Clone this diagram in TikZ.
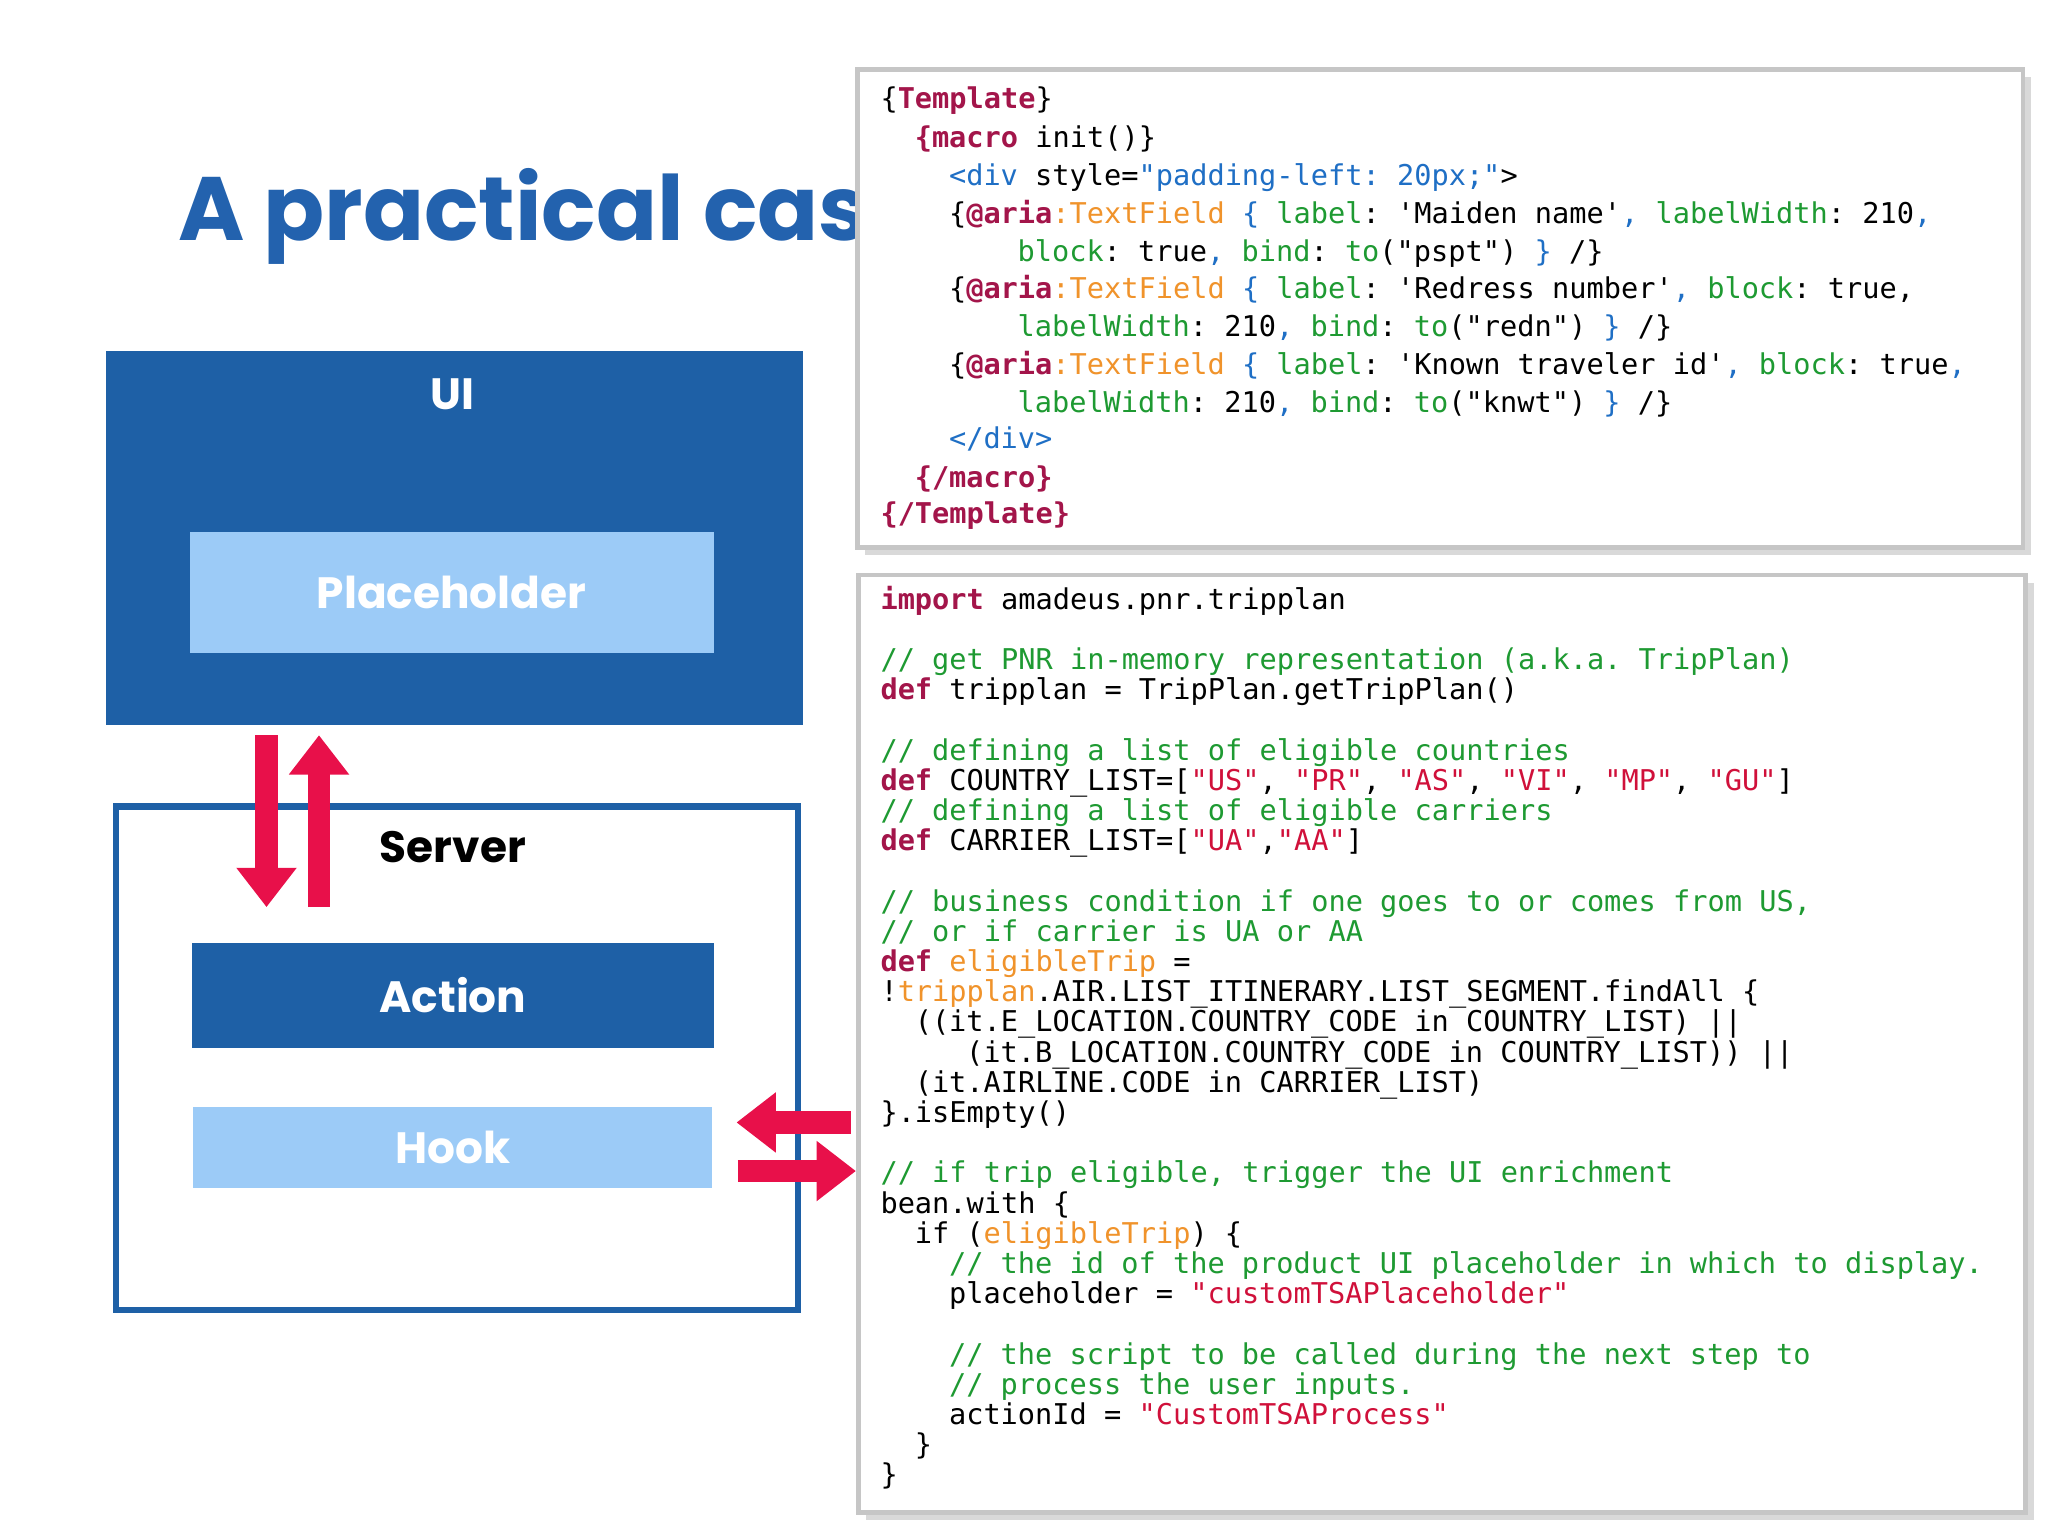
\documentclass[tikz,border=0pt]{standalone}
\usepackage{fontspec}
\setmainfont{Poppins}
\setmonofont{DejaVu Sans Mono}
\usetikzlibrary{arrows.meta}
\definecolor{dblue}{HTML}{1E60A6}
\definecolor{lblue}{HTML}{9CCBF7}
\definecolor{tblue}{HTML}{2362AE}
\definecolor{ared}{HTML}{E8104A}
\definecolor{kwc}{HTML}{A3154A}
\definecolor{cmc}{HTML}{1E9A32}
\definecolor{ogc}{HTML}{F0932B}
\definecolor{blc}{HTML}{1F6FC5}
\definecolor{stc}{HTML}{D0103A}
\newcommand\kw[1]{\textcolor{kwc}{\bfseries #1}}
\newcommand\cm[1]{\textcolor{cmc}{#1}}
\newcommand\og[1]{\textcolor{ogc}{#1}}
\newcommand\bl[1]{\textcolor{blc}{#1}}
\newcommand\st[1]{\textcolor{stc}{#1}}
\newcommand\qq{\symbol{34}}
\newcommand\sq{\symbol{39}}
\newcommand\lb{\{}
\newcommand\rb{\}}
\newcommand\us{\_}
\begin{document}
\begin{tikzpicture}[x=0.01cm,y=-0.01cm,
  code/.style={anchor=base west,inner sep=0pt,font=\ttfamily\fontsize{6.2}{6.5}\selectfont},
  box/.style={draw=gray!45,line width=1pt,fill=white},
  lbl/.style={font=\bfseries\fontsize{9.5}{10}\selectfont,text=white},
  fat/.style={draw=ared,line width=0.17cm,-{Triangle[width=0.44cm,length=0.3cm]}}]
\useasboundingbox (0,0) rectangle (1560,1170);
% title
\node[anchor=base west,inner sep=0pt,text=tblue,font=\bfseries\fontsize{19.5}{22}\selectfont] (title) at (135,183) {A practical cas};
% code boxes
\fill[gray!30] (659,59) rectangle (1547,423);
\fill[gray!30] (660,444) rectangle (1549,1158);
\draw[box] (653,53) rectangle (1541,417);
\draw[box] (654,438) rectangle (1543,1152);
% UI
\node[fill=dblue,minimum width=5.31cm,minimum height=2.84cm,anchor=north west,inner sep=0] (ui) at (80,267) {};
\node[lbl] (uil) at (345,300) {UI};
\node[fill=lblue,minimum width=3.99cm,minimum height=0.92cm,lbl] (ph) at (344,451) {Placeholder};
% Server
\node[draw=dblue,line width=1.4pt,fill=white,minimum width=5.19cm,minimum height=3.83cm,anchor=north west,inner sep=0] (srv) at (86,612) {};
\node[font=\bfseries\fontsize{9.5}{10}\selectfont] (srvl) at (345,645) {Server};
\node[fill=dblue,minimum width=3.97cm,minimum height=0.8cm,lbl] (act) at (345,758) {Action};
\node[fill=lblue,minimum width=3.95cm,minimum height=0.62cm,lbl] (hook) at (345,874) {Hook};
% arrows
\coordinate (d1) at (203,560); \coordinate (d2) at (203,691);
\coordinate (u1) at (243,691); \coordinate (u2) at (243,560);
\draw[fat] (d1) -- (d2);
\draw[fat] (u1) -- (u2);
\coordinate (l1) at (648,855); \coordinate (l2) at (561,855);
\coordinate (r1) at (562,892); \coordinate (r2) at (652,892);
\draw[fat] (l1) -- (l2);
\draw[fat] (r1) -- (r2);
% top code
\def\c{13.05}
\node[code] at (670,83) {\lb\kw{Template}\rb};
\node[code] at (670+2*\c,112) {\kw{\lb macro} init()\rb};
\node[code] at (670+4*\c,141) {\bl{<div} style=\bl{\qq padding-left: 20px;\qq}>};
\node[code] at (670+4*\c,170) {\lb\kw{@aria}\og{:TextField}\bl{\ \lb} \cm{label}: \sq Maiden name\sq\bl{,} \cm{labelWidth}: 210\bl{,}};
\node[code] at (670+8*\c,199) {\cm{block}: true\bl{,} \cm{bind}: \cm{to}(\qq pspt\qq) \bl{\rb} /\rb};
\node[code] at (670+4*\c,227) {\lb\kw{@aria}\og{:TextField}\bl{\ \lb} \cm{label}: \sq Redress number\sq\bl{,} \cm{block}: true,};
\node[code] at (670+8*\c,256) {\cm{labelWidth}: 210\bl{,} \cm{bind}: \cm{to}(\qq redn\qq) \bl{\rb} /\rb};
\node[code] at (670+4*\c,285) {\lb\kw{@aria}\og{:TextField}\bl{\ \lb} \cm{label}: \sq Known traveler id\sq\bl{,} \cm{block}: true\bl{,}};
\node[code] at (670+8*\c,314) {\cm{labelWidth}: 210\bl{,} \cm{bind}: \cm{to}(\qq knwt\qq) \bl{\rb} /\rb};
\node[code] at (670+4*\c,342) {\bl{</div>}};
\node[code] at (670+2*\c,371) {\kw{\lb/macro\rb}};
\node[code] at (670,399) {\kw{\lb/Template\rb}};
% bottom code
\node[code] at (670,464) {\kw{import} amadeus.pnr.tripplan};
\node[code] at (670,510) {\cm{// get PNR in-memory representation (a.k.a. TripPlan)}};
\node[code] at (670,533) {\kw{def} tripplan = TripPlan.getTripPlan()};
\node[code] at (670,579) {\cm{// defining a list of eligible countries}};
\node[code] at (670,602) {\kw{def} COUNTRY\us LIST=[\st{\qq US\qq}, \st{\qq PR\qq}, \st{\qq AS\qq}, \st{\qq VI\qq}, \st{\qq MP\qq}, \st{\qq GU\qq}]};
\node[code] at (670,625) {\cm{// defining a list of eligible carriers}};
\node[code] at (670,648) {\kw{def} CARRIER\us LIST=[\st{\qq UA\qq},\st{\qq AA\qq}]};
\node[code] at (670,694) {\cm{// business condition if one goes to or comes from US,}};
\node[code] at (670,717) {\cm{// or if carrier is UA or AA}};
\node[code] at (670,740) {\kw{def} \og{eligibleTrip} =};
\node[code] at (670,763) {!\og{tripplan}.AIR.LIST\us ITINERARY.LIST\us SEGMENT.findAll \lb};
\node[code] at (670+2*\c,786) {((it.E\us LOCATION.COUNTRY\us CODE in COUNTRY\us LIST) ||};
\node[code] at (670+5*\c,809) {(it.B\us LOCATION.COUNTRY\us CODE in COUNTRY\us LIST)) ||};
\node[code] at (670+2*\c,832) {(it.AIRLINE.CODE in CARRIER\us LIST)};
\node[code] at (670,855) {\rb.isEmpty()};
\node[code] at (670,901) {\cm{// if trip eligible, trigger the UI enrichment}};
\node[code] at (670,924) {bean.with \lb};
\node[code] at (670+2*\c,947) {if (\og{eligibleTrip}) \lb};
\node[code] at (670+4*\c,970) {\cm{// the id of the product UI placeholder in which to display.}};
\node[code] at (670+4*\c,993) {placeholder = \st{\qq customTSAPlaceholder\qq}};
\node[code] at (670+4*\c,1039) {\cm{// the script to be called during the next step to}};
\node[code] at (670+4*\c,1062) {\cm{// process the user inputs.}};
\node[code] at (670+4*\c,1085) {actionId = \st{\qq CustomTSAProcess\qq}};
\node[code] at (670+2*\c,1108) {\rb};
\node[code] at (670,1131) {\rb};
\end{tikzpicture}
\end{document}
